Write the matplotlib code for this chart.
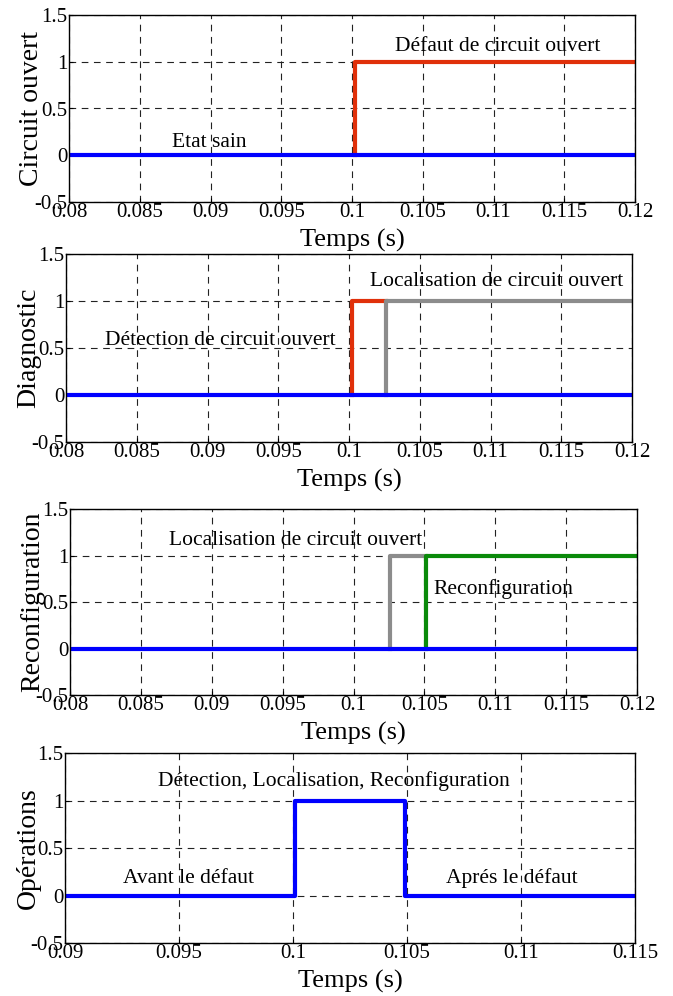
import matplotlib
matplotlib.use("Agg")
import matplotlib.pyplot as plt

plt.rcParams['font.family'] = ['Liberation Serif', 'DejaVu Serif']
plt.rcParams['axes.unicode_minus'] = False

# --- data ---
# panel 1 : circuit ouvert
p1_sain_t = [0.08, 0.12]
p1_sain_v = [0, 0]
p1_defaut_t = [0.1002, 0.1002, 0.12]
p1_defaut_v = [0, 1, 1]

# panel 2 : diagnostic
p2_sain_t = [0.08, 0.12]
p2_sain_v = [0, 0]
p2_detect_t = [0.1002, 0.1002, 0.1026]
p2_detect_v = [0, 1, 1]
p2_local_t = [0.1026, 0.1026, 0.12]
p2_local_v = [0, 1, 1]

# panel 3 : reconfiguration
p3_sain_t = [0.08, 0.12]
p3_sain_v = [0, 0]
p3_local_t = [0.1026, 0.1026, 0.1051]
p3_local_v = [0, 1, 1]
p3_reconf_t = [0.1051, 0.1051, 0.12]
p3_reconf_v = [0, 1, 1]

# panel 4 : operations
p4_t = [0.09, 0.1001, 0.1001, 0.1049, 0.1049, 0.115]
p4_v = [0, 0, 1, 1, 0, 0]

xticks_a = [0.08, 0.085, 0.09, 0.095, 0.1, 0.105, 0.11, 0.115, 0.12]
xlabels_a = ['0.08', '0.085', '0.09', '0.095', '0.1', '0.105', '0.11', '0.115', '0.12']
xticks_b = [0.09, 0.095, 0.1, 0.105, 0.11, 0.115]
xlabels_b = ['0.09', '0.095', '0.1', '0.105', '0.11', '0.115']
yticks = [-0.5, 0, 0.5, 1, 1.5]
ylabels = ['-0.5', '0', '0.5', '1', '1.5']

BLUE = '#0000ff'
RED = '#e0300a'
GREY = '#8c8c8c'
GREEN = '#0a8a0a'
TXT = 15.5

W, H = 673, 996
fig = plt.figure(figsize=(W / 100, H / 100), dpi=100)


def make_axes(l, r, t, b):
    ax = fig.add_axes([l / W, 1 - b / H, (r - l) / W, (b - t) / H])
    ax._px = (r - l, b - t)
    return ax


def style(ax, xlim, xt, xl, ylab):
    ax.set_xlim(*xlim)
    ax.set_ylim(-0.5, 1.5)
    ax.set_xticks(xt)
    ax.set_xticklabels(xl)
    ax.set_yticks(yticks)
    ax.set_yticklabels(ylabels)
    ax.tick_params(direction='in', length=3, labelsize=15, pad=1)
    ax.grid(True, color='#222222', linestyle=(0, (6, 5)), linewidth=0.8)
    for s in ax.spines.values():
        s.set_linewidth(1.0)
    wpx, hpx = ax._px
    ax.set_xlabel('Temps (s)', fontsize=19)
    ax.xaxis.label.set_verticalalignment('center')
    ax.xaxis.set_label_coords(0.5, -38 / hpx)
    ax.set_ylabel(ylab, fontsize=20)
    ax.yaxis.label.set_verticalalignment('center')
    ax.yaxis.set_label_coords(-37 / wpx, 0.5)


ax1 = make_axes(69, 635, 15, 202)
ax1.plot(p1_defaut_t, p1_defaut_v, color=RED, lw=3)
ax1.plot(p1_sain_t, p1_sain_v, color=BLUE, lw=3)
ax1.text(0.0899, 0.14, 'Etat sain', fontsize=TXT, ha='center', va='center')
ax1.text(0.1103, 1.16, 'Défaut de circuit ouvert', fontsize=TXT, ha='center', va='center')
style(ax1, (0.08, 0.12), xticks_a, xlabels_a, 'Circuit ouvert')

ax2 = make_axes(66, 632, 254, 442)
ax2.plot(p2_detect_t, p2_detect_v, color=RED, lw=3)
ax2.plot(p2_local_t, p2_local_v, color=GREY, lw=3)
ax2.plot(p2_sain_t, p2_sain_v, color=BLUE, lw=3)
ax2.text(0.0909, 0.58, 'Détection de circuit ouvert', fontsize=TXT, ha='center', va='center')
ax2.text(0.1104, 1.21, 'Localisation de circuit ouvert', fontsize=TXT, ha='center', va='center')
style(ax2, (0.08, 0.12), xticks_a, xlabels_a, 'Diagnostic')

ax3 = make_axes(70, 637, 509, 695)
ax3.plot(p3_local_t, p3_local_v, color=GREY, lw=3)
ax3.plot(p3_reconf_t, p3_reconf_v, color=GREEN, lw=3)
ax3.plot(p3_sain_t, p3_sain_v, color=BLUE, lw=3)
ax3.text(0.0959, 1.16, 'Localisation de circuit ouvert', fontsize=TXT, ha='center', va='center')
ax3.text(0.1106, 0.64, 'Reconfiguration', fontsize=TXT, ha='center', va='center')
style(ax3, (0.08, 0.12), xticks_a, xlabels_a, 'Reconfiguration')

ax4 = make_axes(65, 635, 753, 943)
ax4.plot(p4_t, p4_v, color=BLUE, lw=3)
ax4.text(0.1018, 1.21, 'Détection, Localisation, Reconfiguration', fontsize=TXT, ha='center', va='center')
ax4.text(0.0954, 0.18, 'Avant le défaut', fontsize=TXT, ha='center', va='center')
ax4.text(0.1096, 0.18, 'Aprés le défaut', fontsize=TXT, ha='center', va='center')
style(ax4, (0.09, 0.115), xticks_b, xlabels_b, 'Opérations')

fig.savefig('out.png', dpi=100)
